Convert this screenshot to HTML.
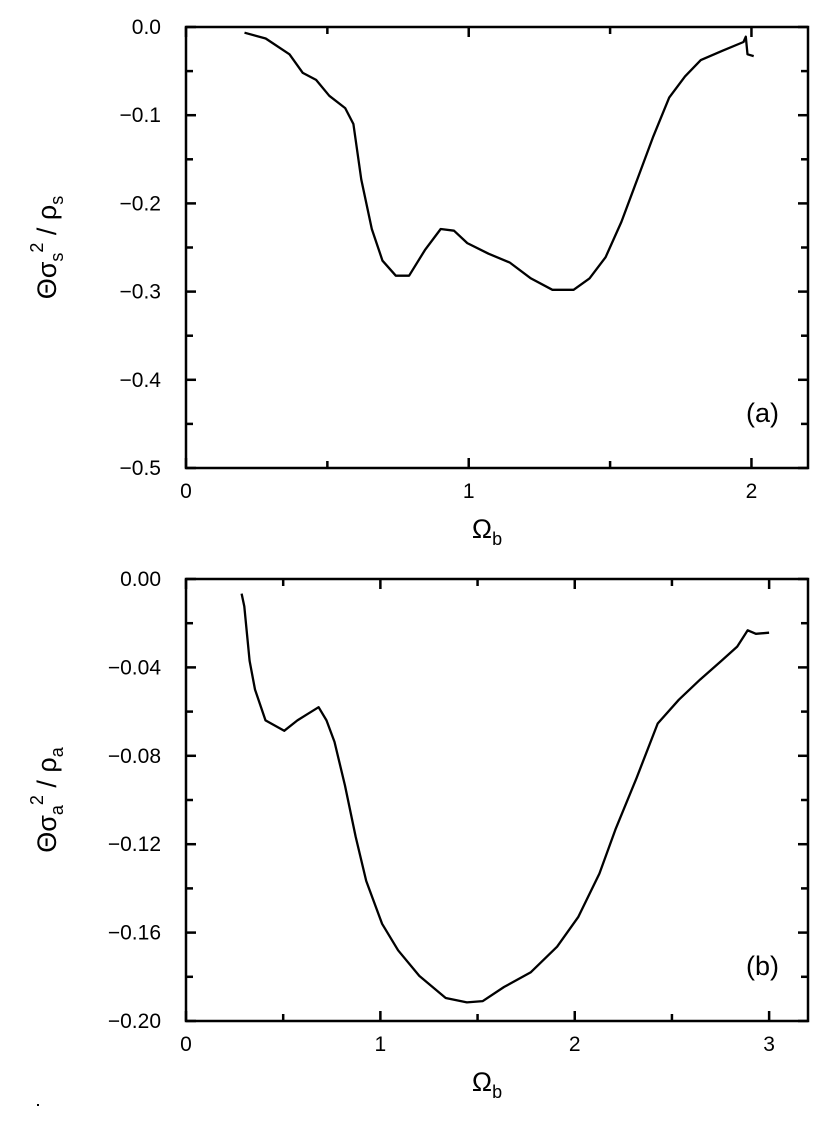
<!DOCTYPE html>
<html><head><meta charset="utf-8"><style>
body{margin:0;background:#fff;}
svg{display:block;font-family:"Liberation Sans",sans-serif;}
</style></head><body>
<svg id="fig" width="830" height="1125" viewBox="0 0 830 1125"></svg>
<script>
// Panel (a) data
const aX = [0.207,0.282,0.366,0.413,0.46,0.507,0.563,0.592,0.62,0.657,0.695,0.742,0.789,0.845,0.901,0.948,0.995,1.07,1.145,1.22,1.296,1.371,1.427,1.484,1.54,1.596,1.653,1.709,1.765,1.821,1.897,1.972,1.98,1.986,2.008];
const aY = [-0.0065,-0.013,-0.031,-0.052,-0.060,-0.078,-0.092,-0.110,-0.173,-0.229,-0.265,-0.282,-0.282,-0.253,-0.229,-0.231,-0.245,-0.257,-0.267,-0.285,-0.298,-0.298,-0.285,-0.261,-0.221,-0.173,-0.124,-0.080,-0.056,-0.0375,-0.027,-0.017,-0.011,-0.031,-0.033];
const aXTicks = ["0","1","2"];
const aYTicks = ["0.0","−0.1","−0.2","−0.3","−0.4","−0.5"];
// Panel (b) data
const bX = [0.286,0.30,0.327,0.355,0.409,0.505,0.573,0.627,0.682,0.723,0.764,0.818,0.873,0.927,1.009,1.091,1.2,1.336,1.445,1.527,1.636,1.773,1.909,2.018,2.127,2.209,2.318,2.427,2.536,2.645,2.755,2.836,2.89,2.932,3.0];
const bY = [-0.0066,-0.0124,-0.037,-0.050,-0.064,-0.0687,-0.064,-0.061,-0.058,-0.064,-0.0737,-0.0935,-0.1167,-0.1366,-0.156,-0.168,-0.1796,-0.1896,-0.1916,-0.191,-0.1846,-0.178,-0.1664,-0.153,-0.1333,-0.1134,-0.090,-0.0654,-0.0546,-0.0455,-0.037,-0.0306,-0.0232,-0.0248,-0.0243];
const bXTicks = ["0","1","2","3"];
const bYTicks = ["0.00","−0.04","−0.08","−0.12","−0.16","−0.20"];

const NS="http://www.w3.org/2000/svg";
const svg=document.getElementById('fig');
function mk(tag,attrs,parent){const e=document.createElementNS(NS,tag);for(const k in attrs)e.setAttribute(k,attrs[k]);(parent||svg).appendChild(e);return e;}

function panel(o){
  const g=mk('g',{});
  
  
  const sx=v=>o.L+(v-o.x0)/(o.x1-o.x0)*(o.R-o.L);
  const sy=v=>o.T+(o.y0-v)/(o.y0-o.y1)*(o.B-o.T);
  const frame=mk('rect',{x:o.L,y:o.T,width:o.R-o.L,height:o.B-o.T,fill:'none',stroke:'#000','stroke-width':2.5},g);
  
  
  for(let v=o.x0;v<=o.x1+1e-9;v+=o.xMinor){
    const major=Math.abs(v/o.xMajor-Math.round(v/o.xMajor))<1e-6;
    const len=major?10:7;
    const x=sx(v);
    const t1=mk('line',{x1:x,x2:x,y1:o.B,y2:o.B-len,stroke:'#000','stroke-width':2.5},g);
    
    
    const t2=mk('line',{x1:x,x2:x,y1:o.T,y2:o.T+len,stroke:'#000','stroke-width':2.5},g);
    
    
  }
  o.xTicks.forEach((lab,i)=>{
    const t=mk('text',{x:sx(i*o.xMajor),y:o.B+30,'text-anchor':'middle','font-size':21},g);
    t.textContent=lab;
    
    
  });
  for(let v=o.y0;v>=o.y1-1e-9;v-=o.yMinor){
    const y=sy(v);
    const major=Math.abs(v/o.yMajor-Math.round(v/o.yMajor))<1e-6;
    const len=major?10:7;
    const t1=mk('line',{x1:o.L,x2:o.L+len,y1:y,y2:y,stroke:'#000','stroke-width':2.5},g);
    
    
    const t2=mk('line',{x1:o.R,x2:o.R-len,y1:y,y2:y,stroke:'#000','stroke-width':2.5},g);
    
    
  }
  o.yTicks.forEach((lab,i)=>{
    const t=mk('text',{x:161,y:sy(o.y0-i*o.yMajor)+7,'text-anchor':'end','font-size':21},g);
    t.textContent=lab;
    
    
  });
  let d='';
  o.xs.forEach((v,i)=>{d+=(i?'L':'M')+sx(v).toFixed(1)+','+sy(o.ys[i]).toFixed(1);});
  const p=mk('path',{d:d,fill:'none',stroke:'#000','stroke-width':2.3,'stroke-linejoin':'round'},g);
  
  
  const pl=mk('text',{x:o.R-62,y:o.B-46,'font-size':27},g);
  pl.textContent=o.tag;
  
  
  const xl=mk('text',{x:(o.L+o.R)/2-10,y:o.B+70,'text-anchor':'middle','font-size':27},g);
  xl.innerHTML='Ω<tspan font-size="18" dy="7">b</tspan>';
  
  
  const cy=(o.T+o.B)/2;
  const yl=mk('text',{x:0,y:0,'text-anchor':'middle','font-size':27,transform:`translate(56,${cy}) rotate(-90)`},g);
  yl.innerHTML=`Θσ<tspan font-size="18" dy="7">${o.sub}</tspan><tspan font-size="18" dy="-20">2</tspan><tspan dy="13"> / ρ</tspan><tspan font-size="18" dy="7">${o.sub}</tspan>`;
  
  
}
panel({name:'panel-a',L:186,R:808,T:27,B:468,x0:0,x1:2.2,y0:0,y1:-0.5,xMajor:1,xMinor:0.5,yMajor:0.1,yMinor:0.05,xTicks:aXTicks,yTicks:aYTicks,xs:aX,ys:aY,tag:'(a)',sub:'s'});
panel({name:'panel-b',L:186,R:808,T:579,B:1021,x0:0,x1:3.2,y0:0,y1:-0.2,xMajor:1,xMinor:0.5,yMajor:0.04,yMinor:0.02,xTicks:bXTicks,yTicks:bYTicks,xs:bX,ys:bY,tag:'(b)',sub:'a'});
const dot=mk('rect',{x:37,y:1104,width:2,height:2,fill:'#000'});


</script>
</body></html>
